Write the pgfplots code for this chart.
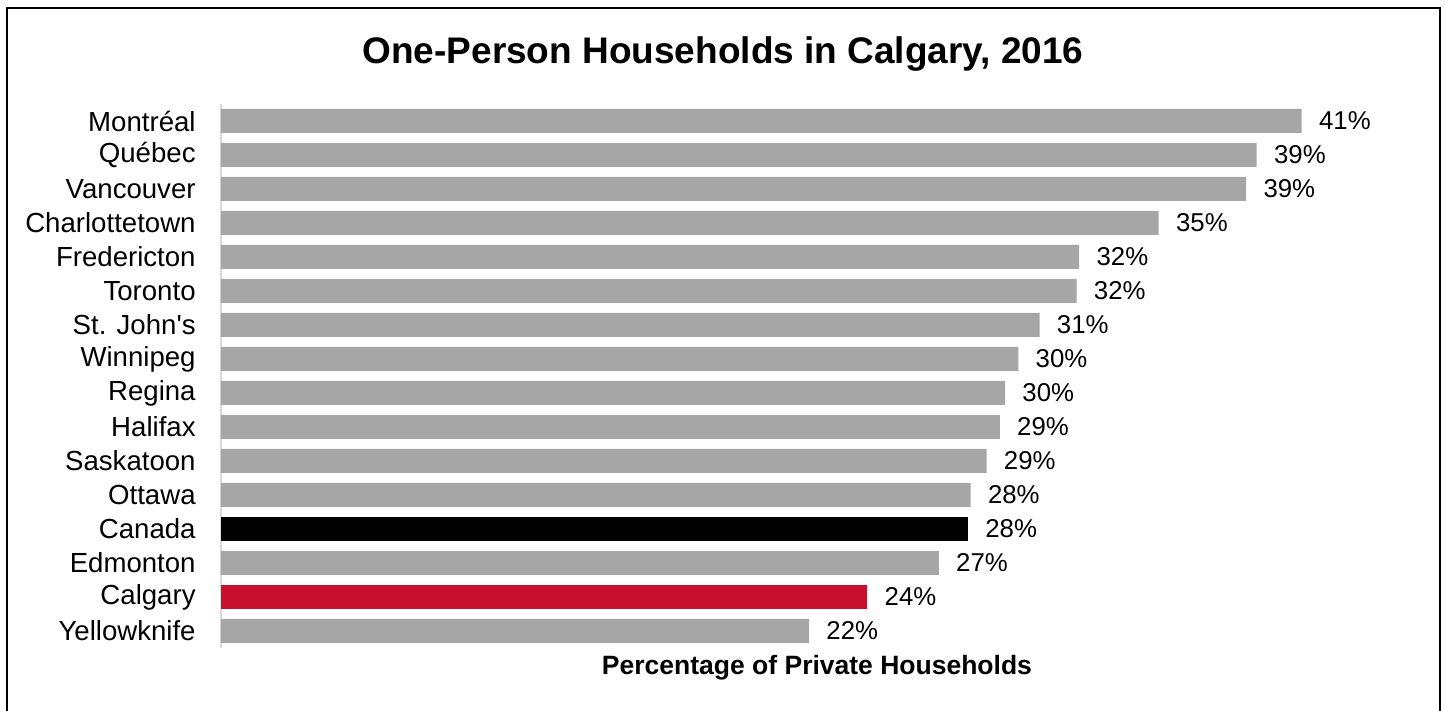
\documentclass[border=0pt]{standalone}
\usepackage{pgfplots}
\pgfplotsset{compat=1.18}
\usepackage{fontspec}
\setmainfont{Liberation Sans}
\definecolor{bargray}{HTML}{A6A6A6}
\definecolor{calred}{HTML}{C8102E}
\definecolor{axisgray}{HTML}{D9D9D9}
\begin{document}
\begin{tikzpicture}
\begin{axis}[
  at={(0pt,0pt)}, anchor=south west,
  scale only axis, width=596pt, height=272pt,
  xbar, bar width=12pt,
  xmin=0, xmax=45, ymin=-0.5, ymax=15.5,
  xtick=\empty,
  ytick={0,...,15},
  yticklabels={Yellowknife,Calgary,Edmonton,Canada,Ottawa,Saskatoon,Halifax,Regina,Winnipeg,St. John\textquotesingle s,Toronto,Fredericton,Charlottetown,Vancouver,Québec,Montréal},
  major tick length=0pt,
  axis x line*=bottom, axis y line*=left,
  x axis line style={draw=none},
  y axis line style={draw=axisgray, line width=1pt},
  yticklabel style={font=\fontsize{13.8}{16}\selectfont, anchor=east, inner sep=0pt, xshift=-12.5pt},
  xlabel={Percentage of Private Households},
  xlabel style={font=\fontsize{13.25}{16}\selectfont\bfseries, at={(axis description cs:0.5,0)}, anchor=base, yshift=-13.5pt},
  point meta=x,
  nodes near coords={\pgfmathprintnumber[fixed,precision=0,assume math mode=true]{\pgfplotspointmeta}\%},
  nodes near coords style={anchor=west, inner sep=0pt, xshift=8.5pt, font=\fontsize{12.9}{15}\selectfont, text=black},
  clip=false,
]
\addplot[fill=bargray, draw=none, bar shift=0pt] coordinates {(22.2,0) (27.1,2) (28.3,4) (28.9,5) (29.4,6) (29.6,7) (30.1,8) (30.9,9) (32.3,10) (32.4,11) (35.4,12) (38.7,13) (39.1,14) (40.8,15)};
\addplot[fill=calred, draw=none, bar shift=0pt] coordinates {(24.4,1)};
\addplot[fill=black, draw=none, bar shift=0pt] coordinates {(28.2,3)};
\end{axis}
\node[anchor=base, font=\fontsize{18.5}{22}\selectfont\bfseries] at (251pt,292pt) {One-Person Households in Calgary, 2016};
\draw[line width=1pt] (-107pt,-31.5pt) -- (-107pt,320pt) -- (609.5pt,320pt) -- (609.5pt,-31.5pt);
\pgfresetboundingbox
\path[use as bounding box] (-110.5pt,-31.5pt) rectangle (612pt,324pt);
\end{tikzpicture}
\end{document}
